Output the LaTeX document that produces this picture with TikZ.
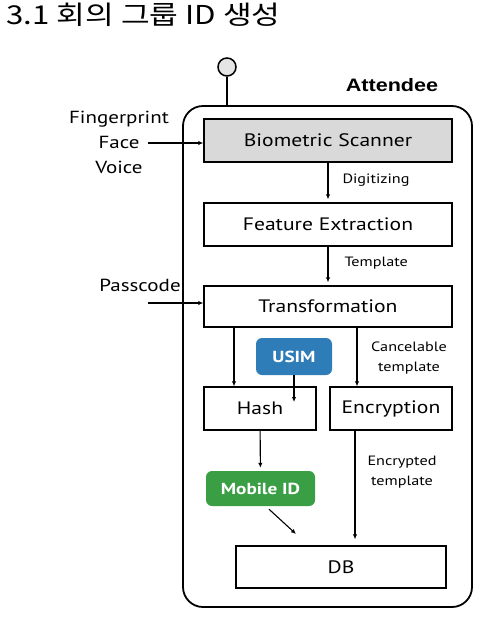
\documentclass[tikz,border=0pt]{standalone}
\usepackage{fontspec}
\setmainfont{PT Sans}[FakeStretch=1.2]
\newfontfamily\krfont{Noto Sans CJK KR}[FakeStretch=1.2]
\newfontfamily\arialfont{Liberation Sans}[FakeStretch=1.2]
\usepackage{xcolor}
\usetikzlibrary{positioning,arrows.meta}
\definecolor{usimblue}{HTML}{2F7DB8}
\definecolor{mobgreen}{HTML}{3A9E45}
\definecolor{scangray}{HTML}{D9D9D9}

\begin{document}
\begin{tikzpicture}[x=1pt, y=-1pt,
  box/.style={draw, line width=1.4pt, inner sep=0pt,
              font=\fontsize{18}{21}\selectfont},
  tag/.style={rounded corners=6pt, inner sep=0pt, text=white,
              font=\bfseries\fontsize{16}{19}\selectfont},
  lbl/.style={font=\fontsize{13.5}{20}\selectfont, align=center},
  side/.style={font=\fontsize{17.5}{25}\selectfont, align=center},
  arr/.style={-{Latex[length=5pt,width=4.5pt]}, line width=1.1pt, shorten >=3pt}
]
\useasboundingbox (0,0) rectangle (478,622);

\node[anchor=west, font=\krfont\fontsize{26}{30}\selectfont] (title) at (3,15) {3.1 회의 그룹 ID 생성};

% the device
\node[draw, line width=1.8pt, rounded corners=20pt, minimum width=289pt,
      minimum height=501pt] (device) at (327.5,356.5) {};
\node[circle, draw, fill=gray!20, line width=1.5pt, minimum size=18pt,
      inner sep=0pt] (ant) at (227,67) {};
\draw[line width=1.8pt] (ant.south) -- (ant |- device.north);
\node[font=\arialfont\bfseries\fontsize{18}{21}\selectfont] (attendee) at (392,85) {Attendee};

\node[box, fill=scangray, minimum width=248pt, minimum height=43pt] (scanner) at (328,140.5) {Biometric Scanner};
\node[box, minimum width=248pt, minimum height=43pt] (feature) at (328,224.5) {Feature Extraction};
\node[box, minimum width=248pt, minimum height=41pt] (transform) at (328,306.5) {Transformation};
\node[box, minimum width=112pt, minimum height=43pt] (hash) at (260,408.5) {Hash};
\node[box, minimum width=122pt, minimum height=43pt] (encrypt) at (391,408.5) {Encryption};
\node[box, minimum width=210pt, minimum height=42pt] (db) at (341,567) {DB};
\node[tag, fill=usimblue, minimum width=76pt, minimum height=37pt] (usim) at (294,356.5) {USIM};
\node[tag, fill=mobgreen, minimum width=109pt, minimum height=35pt] (mobileid) at (260.5,488.5) {Mobile ID};

% inputs
\node[side] (bio) at (119,142) {Fingerprint\\Face\\Voice};
\node[side] (passcode) at (140,285) {Passcode};
\coordinate (bioin) at (148,143);
\coordinate (passin) at (148,303);
\draw[arr, shorten >=0pt] (bioin) -- (bioin -| scanner.west);
\draw[arr, shorten >=0pt] (passin) -- (passin -| transform.west);

% flow
\draw[arr] (scanner) -- (feature);
\node[lbl, anchor=west] (digit) at (339,180) {Digitizing};
\draw[arr] (feature) -- (transform);
\node[lbl, anchor=west] (templ) at (341,263) {Template};

\coordinate (hashin) at ([xshift=-26pt]hash.north);
\coordinate (encin) at ([xshift=-34pt]encrypt.north);
\draw[arr, shorten >=0pt] (transform.south -| hashin) -- (hashin);
\draw[arr, shorten >=0pt] (transform.south -| encin) -- (encin);
\node[lbl] (cancel) at (409,358) {Cancelable\\template};

\coordinate (usimin) at (294,402);
\draw[arr, shorten >=0pt] (usim.south) -- (usimin);

\draw[arr] (hash) -- (mobileid);
\coordinate (dbin) at (296,534);
\draw[arr, shorten >=0pt] ([xshift=8.5pt,yshift=-3pt]mobileid.south) -- (dbin);

\coordinate (encout) at ([xshift=-36pt]encrypt.south);
\draw[arr, shorten >=6pt] (encout) -- (encout |- db.north);
\node[lbl] (enctpl) at (402,472) {Encrypted\\template};
\end{tikzpicture}
\end{document}
